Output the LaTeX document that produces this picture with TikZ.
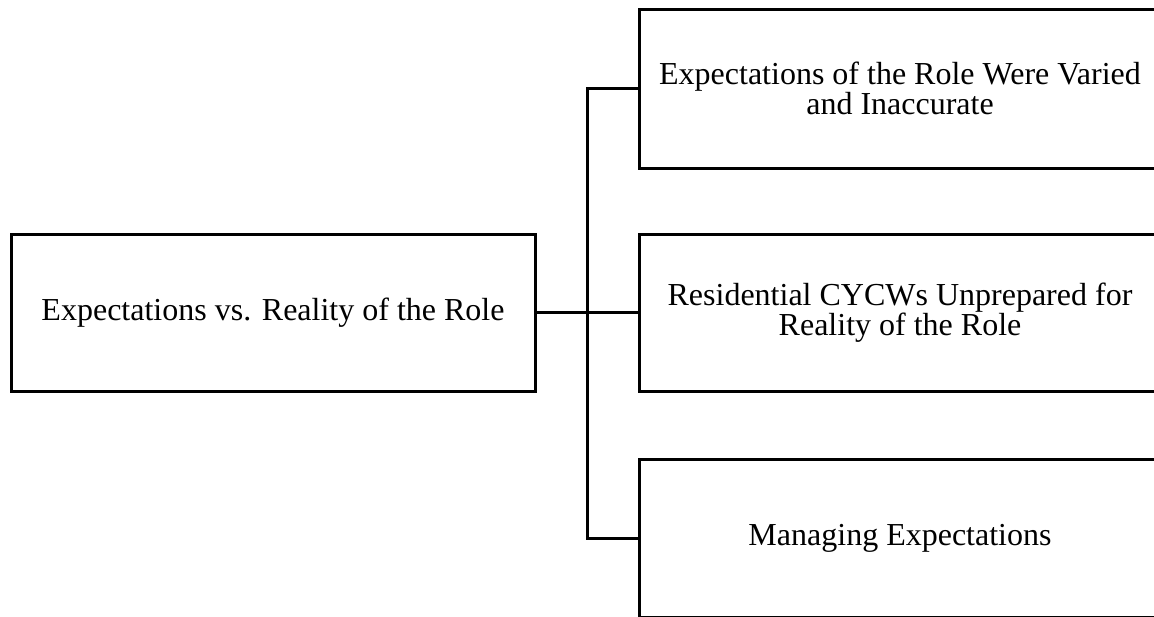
\documentclass[tikz,border=0pt]{standalone}
\usepackage{fontspec}
\setmainfont{Liberation Serif}
\begin{document}
\begin{tikzpicture}[x=1pt,y=-1pt,
  box/.style={draw=black, line width=3pt, fill=white, inner sep=0pt, align=center,
    font=\fontsize{32}{30.6}\selectfont},
  link/.style={draw=black, line width=3pt}]
  \useasboundingbox (0,0) rectangle (1154,616);
  \clip (0,0) rectangle (1154,616);
  % root topic
  \node[box, minimum width=524pt, minimum height=157pt] (root) at (273,312.5)
    {Expectations vs. Reality of the Role};
  % sub topics
  \node[box, minimum width=522pt, minimum height=159pt] (top) at (900,88.5)
    {Expectations of the Role Were Varied\\and Inaccurate};
  \node[box, minimum width=522pt, minimum height=157pt] (mid) at (900,312.5)
    {Residential CYCWs Unprepared for\\Reality of the Role};
  \node[box, minimum width=522pt, minimum height=158pt] (bot) at (900,538)
    {Managing Expectations};
  % connectors
  \coordinate (spine) at (587,312.5);
  \draw[link] (root.east) -- (mid.west);
  \draw[link] (top.west) -| (spine) |- (bot.west);
\end{tikzpicture}
\end{document}
